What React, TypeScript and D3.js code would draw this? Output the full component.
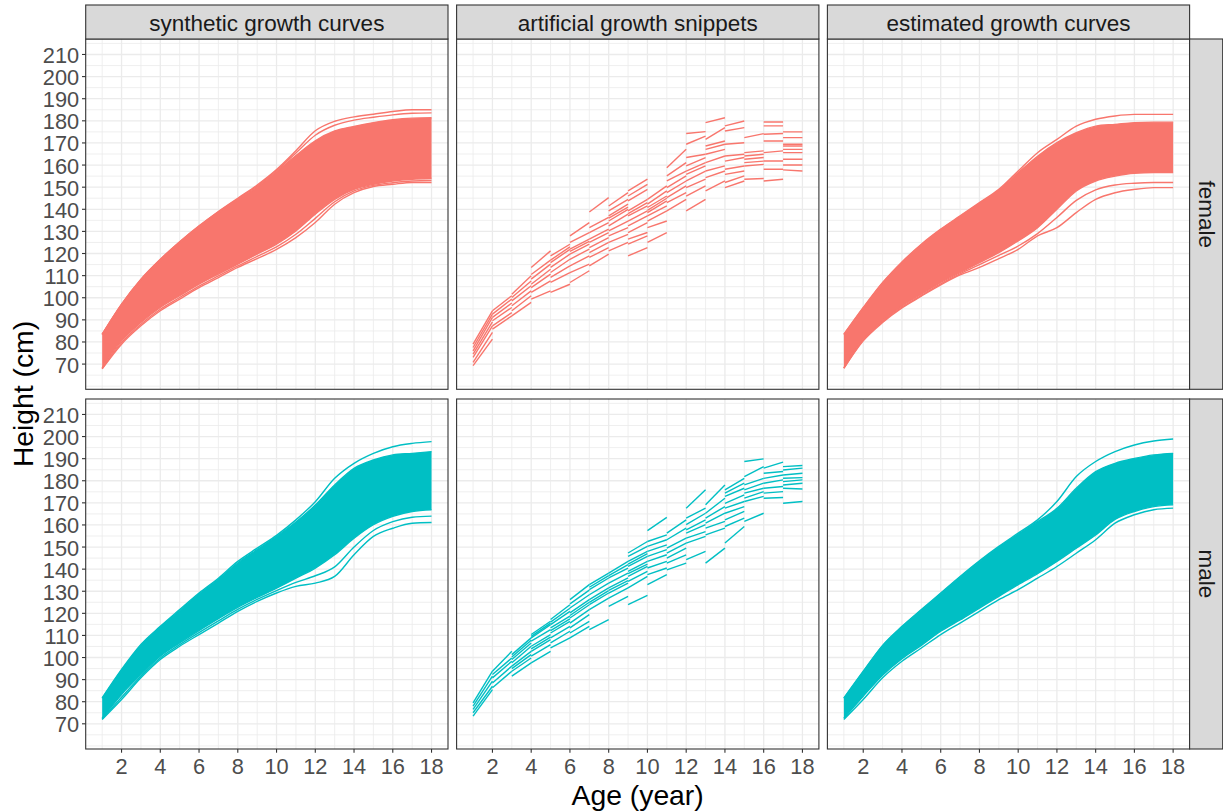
import React from "react";
import * as d3 from "d3";

// ---------- data ----------
const AGES = [1, 2, 3, 4, 5, 6, 7, 8, 9, 10, 11, 12, 13, 14, 15, 16, 17, 18];
const X_TICKS = [2, 4, 6, 8, 10, 12, 14, 16, 18];
const X_MINOR = [1, 3, 5, 7, 9, 11, 13, 15, 17];
const Y_TICKS = [70, 80, 90, 100, 110, 120, 130, 140, 150, 160, 170, 180, 190, 200, 210];
const Y_MINOR = [60, 65, 75, 85, 95, 105, 115, 125, 135, 145, 155, 165, 175, 185, 195, 205, 215];
const COLUMN_TITLES = ["synthetic growth curves", "artificial growth snippets", "estimated growth curves"];
const ROW_TITLES = ["female", "male"];
const SEX_COLORS = ["#F8766D", "#00BFC4"];

// synthetic growth curves (band edges & outlying curves), female
const sfUpperOut = [83.5, 97.1, 108.4, 117.4, 125.3, 132.5, 139.0, 145.0, 151.0, 158.0, 166.5, 175.5, 179.8, 181.8, 183.0, 184.2, 185.0, 185.0];
const sfUpperMid = [83.4, 97.0, 108.2, 117.2, 125.2, 132.3, 138.8, 144.7, 150.5, 157.5, 165.5, 173.5, 178.0, 180.3, 181.6, 182.7, 183.4, 183.6];
const sfUpper = [83.3, 96.8, 108.0, 117.0, 125.0, 132.0, 138.5, 144.3, 150.0, 157.0, 164.3, 171.0, 175.4, 177.5, 179.2, 180.5, 181.2, 181.4];
const sfLower = [68.3, 80.5, 88.8, 95.6, 100.9, 106.1, 110.7, 115.2, 119.7, 124.2, 130.2, 137.8, 144.5, 149.0, 151.3, 152.8, 153.6, 153.9];
const sfLowerMid = [68.0, 79.7, 88.0, 94.8, 100.1, 105.3, 109.9, 114.4, 118.7, 123.0, 128.7, 135.9, 143.4, 148.3, 150.8, 152.0, 152.8, 153.0];
const sfLowerOut = [67.8, 79.0, 87.3, 94.1, 99.4, 104.6, 109.1, 113.7, 117.7, 121.9, 127.2, 134.0, 142.3, 147.5, 150.3, 151.3, 152.1, 152.1];

// synthetic growth curves, male
const smUpperOut = [81.7, 94.6, 105.9, 114.1, 121.7, 129.2, 135.9, 143.5, 149.5, 155.3, 162.3, 170.5, 181.1, 187.9, 192.4, 195.4, 196.9, 197.7];
const smUpper = [81.5, 94.2, 105.5, 113.7, 121.2, 128.7, 135.4, 142.8, 148.8, 154.7, 161.3, 169.0, 178.1, 185.6, 189.4, 191.7, 192.4, 193.2];
const smLower = [72.5, 83.3, 92.3, 100.6, 106.6, 112.2, 117.6, 122.7, 127.2, 131.4, 135.9, 140.5, 146.5, 154.0, 160.1, 163.9, 166.1, 166.9];
const smLowerMid = [72.2, 82.0, 91.5, 99.8, 105.8, 111.3, 116.6, 121.8, 126.3, 130.3, 134.0, 137.0, 141.0, 150.0, 157.5, 161.5, 163.5, 164.0];
const smLowerOut = [72.0, 81.0, 90.8, 99.1, 105.1, 110.4, 115.6, 120.9, 125.4, 129.2, 132.2, 133.7, 136.7, 146.5, 154.8, 158.5, 160.8, 161.1];

// estimated growth curves, female
const efUpperOut = [83.5, 95.6, 106.9, 116.2, 124.2, 131.0, 137.0, 143.0, 149.0, 157.3, 165.6, 171.6, 177.6, 180.7, 182.2, 182.9, 182.9, 182.9];
const efUpper = [83.3, 95.3, 106.6, 115.9, 123.9, 130.7, 136.7, 142.7, 148.6, 156.5, 164.0, 170.1, 174.6, 177.6, 178.4, 179.2, 179.4, 179.4];
const efLower = [68.3, 81.3, 89.6, 96.3, 101.6, 106.9, 111.4, 115.9, 120.4, 125.7, 131.7, 140.0, 148.3, 152.8, 155.0, 156.3, 156.6, 156.6];
const efLowerMid = [68.2, 80.9, 89.2, 95.8, 101.1, 106.3, 110.8, 115.0, 119.2, 123.4, 129.0, 136.3, 144.0, 148.8, 151.0, 151.8, 152.1, 152.1];
const efLowerOut = [68.1, 80.5, 88.8, 95.4, 100.7, 105.8, 110.3, 113.7, 117.7, 121.9, 128.0, 131.7, 138.5, 144.5, 147.5, 149.0, 149.8, 149.8];

// estimated growth curves, male
const emUpperOut = [81.7, 93.8, 105.5, 114.1, 121.7, 129.2, 136.7, 143.8, 150.3, 156.3, 162.3, 170.6, 181.9, 188.7, 193.2, 196.2, 198.0, 198.9];
const emUpper = [81.5, 93.5, 105.2, 113.8, 121.4, 128.9, 136.3, 143.4, 149.9, 155.8, 161.5, 167.5, 176.6, 184.1, 187.9, 190.1, 191.7, 192.4];
const emLower = [72.5, 82.5, 92.0, 99.5, 105.5, 111.9, 117.0, 122.4, 127.7, 133.0, 138.0, 143.5, 149.5, 155.5, 162.5, 166.1, 168.3, 169.1];
const emLowerOut = [72.0, 81.0, 90.8, 98.3, 104.3, 110.4, 115.6, 120.9, 126.2, 130.7, 135.9, 141.2, 147.2, 153.3, 160.8, 164.6, 166.9, 167.6];

// artificial growth snippets: [start age, height at start, height one year later]
const femaleSnippets: [number, number, number][] = [
  [1, 79.0, 94.1], [1, 77.5, 92.6], [1, 76.0, 91.1], [1, 74.5, 89.1], [1, 73.0, 87.3], [1, 70.8, 84.3], [1, 69.3, 81.3],
  [2, 94.1, 100.9], [2, 92.6, 99.4], [2, 91.1, 97.6], [2, 89.6, 95.6], [2, 87.3, 93.3], [2, 85.8, 91.8],
  [3, 101.6, 109.9], [3, 100.1, 107.6], [3, 98.6, 105.4], [3, 96.4, 103.1], [3, 94.1, 100.9], [3, 91.8, 97.9],
  [4, 113.7, 121.2], [4, 110.5, 117.0], [4, 108.4, 115.2], [4, 106.1, 112.9], [4, 104.6, 110.7], [4, 102.4, 107.6], [4, 99.4, 103.1],
  [5, 118.9, 124.2], [5, 117.0, 123.0], [5, 115.9, 121.9], [5, 113.7, 119.7], [5, 111.4, 117.4], [5, 109.2, 114.4], [5, 106.9, 111.4], [5, 102.4, 106.1],
  [6, 128.0, 134.0], [6, 125.0, 129.5], [6, 122.0, 126.5], [6, 121.0, 125.5], [6, 119.7, 124.2], [6, 117.4, 122.0], [6, 114.4, 118.9], [6, 111.4, 115.2], [6, 106.9, 112.2],
  [7, 138.8, 145.3], [7, 131.7, 136.3], [7, 129.5, 134.0], [7, 126.5, 131.0], [7, 125.0, 129.5], [7, 122.7, 127.2], [7, 120.4, 125.0], [7, 118.2, 122.7], [7, 114.4, 119.7],
  [8, 141.5, 147.5], [8, 139.3, 144.5], [8, 137.0, 142.3], [8, 136.0, 141.0], [8, 134.7, 140.0], [8, 132.5, 137.8], [8, 130.2, 134.7], [8, 128.0, 131.7], [8, 125.0, 128.7], [8, 121.2, 125.0],
  [9, 148.3, 153.6], [9, 146.0, 151.3], [9, 143.8, 149.0], [9, 139.3, 144.5], [9, 138.0, 143.0], [9, 137.0, 141.5], [9, 134.7, 139.3], [9, 132.5, 137.0], [9, 129.5, 134.0], [9, 126.5, 129.5], [9, 124.2, 128.0], [9, 118.9, 122.7],
  [10, 144.5, 150.6], [10, 142.3, 148.3], [10, 140.8, 146.0], [10, 139.5, 145.0], [10, 138.5, 143.8], [10, 137.0, 141.5], [10, 134.7, 139.3], [10, 131.7, 134.7], [10, 125.0, 129.5],
  [11, 158.8, 167.1], [11, 155.1, 161.1], [11, 152.8, 157.3], [11, 149.8, 155.1], [11, 147.5, 152.8], [11, 145.3, 150.6], [11, 143.0, 147.5], [11, 139.3, 144.5],
  [12, 174.3, 175.1], [12, 169.4, 173.1], [12, 163.4, 164.9], [12, 159.6, 163.4], [12, 157.3, 161.1], [12, 155.8, 159.6], [12, 152.8, 157.3], [12, 149.8, 153.6], [12, 146.0, 150.6], [12, 139.3, 144.5],
  [13, 179.2, 181.4], [13, 171.6, 176.9], [13, 168.6, 170.9], [13, 167.1, 169.4], [13, 164.9, 167.1], [13, 161.1, 164.1], [13, 157.3, 159.6], [13, 154.3, 157.3], [13, 148.3, 152.8],
  [14, 177.7, 179.9], [14, 175.4, 176.9], [14, 169.4, 170.1], [14, 164.1, 164.9], [14, 161.8, 163.4], [14, 158.1, 159.6], [14, 155.8, 157.3], [14, 152.1, 155.1], [14, 149.8, 152.8],
  [15, 172.4, 174.2], [15, 165.6, 166.4], [15, 164.1, 164.9], [15, 162.6, 163.4], [15, 161.1, 161.8], [15, 159.6, 160.3], [15, 153.6, 153.9],
  [16, 179.5, 179.5], [16, 177.7, 177.7], [16, 173.9, 174.3], [16, 170.9, 170.9], [16, 165.6, 166.4], [16, 161.8, 161.8], [16, 158.1, 158.1], [16, 152.8, 153.6],
  [17, 175.0, 175.0], [17, 172.4, 172.4], [17, 169.4, 169.4], [17, 168.6, 168.6], [17, 167.1, 167.1], [17, 165.6, 165.6], [17, 162.6, 162.6], [17, 160.0, 160.0], [17, 157.8, 157.3],
];

const maleSnippets: [number, number, number][] = [
  [1, 79.5, 93.8], [1, 78.0, 91.6], [1, 76.5, 89.3], [1, 75.0, 87.0], [1, 73.5, 85.5],
  [2, 93.8, 102.8], [2, 92.3, 99.8], [2, 90.8, 98.3], [2, 88.5, 96.1], [2, 86.3, 93.8],
  [3, 101.3, 108.9], [3, 100.2, 107.8], [3, 99.1, 106.6], [3, 97.6, 105.1], [3, 96.1, 102.8], [3, 95.0, 101.3], [3, 93.8, 99.8], [3, 91.6, 97.6],
  [4, 110.4, 116.4], [4, 109.6, 115.6], [4, 108.9, 114.9], [4, 107.4, 112.6], [4, 105.1, 110.4], [4, 103.9, 109.2], [4, 102.8, 108.1], [4, 100.6, 105.8], [4, 97.6, 102.8],
  [5, 117.2, 123.9], [5, 116.0, 122.3], [5, 114.9, 120.9], [5, 113.4, 118.7], [5, 112.2, 117.5], [5, 111.1, 116.4], [5, 108.9, 114.1], [5, 106.6, 111.9], [5, 104.4, 108.9],
  [6, 126.2, 133.0], [6, 124.3, 130.5], [6, 122.4, 128.4], [6, 120.2, 126.2], [6, 119.0, 125.0], [6, 117.9, 123.9], [6, 115.6, 121.7], [6, 113.4, 119.4], [6, 111.1, 116.4], [6, 108.9, 114.1],
  [7, 133.0, 138.2], [7, 131.8, 137.1], [7, 130.7, 136.0], [7, 128.4, 133.7], [7, 126.2, 131.5], [7, 125.0, 130.3], [7, 123.9, 129.2], [7, 121.7, 126.9], [7, 112.6, 117.2],
  [8, 138.2, 143.5], [8, 137.1, 142.0], [8, 136.0, 140.5], [8, 133.7, 138.2], [8, 131.5, 136.0], [8, 130.4, 134.8], [8, 129.2, 133.7], [8, 126.9, 131.5], [8, 123.2, 127.7],
  [9, 147.3, 152.5], [9, 145.8, 150.3], [9, 143.5, 148.0], [9, 142.3, 147.0], [9, 141.2, 145.8], [9, 139.0, 143.5], [9, 138.0, 142.3], [9, 136.7, 141.2], [9, 134.5, 139.0], [9, 131.5, 136.7], [9, 123.9, 128.1],
  [10, 157.4, 163.4], [10, 152.5, 155.5], [10, 150.3, 153.3], [10, 148.0, 151.0], [10, 145.8, 148.8], [10, 143.5, 146.5], [10, 140.5, 143.5], [10, 137.5, 140.5], [10, 133.0, 137.5],
  [11, 156.3, 162.3], [11, 153.3, 158.6], [11, 149.5, 154.0], [11, 147.3, 151.8], [11, 145.0, 149.5], [11, 142.7, 146.5], [11, 139.7, 142.7],
  [12, 167.6, 175.9], [12, 163.1, 167.6], [12, 160.1, 165.3], [12, 157.8, 162.3], [12, 156.3, 160.1], [12, 154.0, 157.0], [12, 151.8, 154.8], [12, 144.3, 148.0],
  [13, 169.1, 178.1], [13, 165.3, 172.1], [13, 163.1, 168.3], [13, 160.8, 165.3], [13, 158.6, 161.6], [13, 155.5, 158.6], [13, 142.7, 149.5],
  [14, 175.9, 181.1], [14, 174.4, 178.9], [14, 172.9, 176.6], [14, 169.8, 173.6], [14, 167.6, 170.6], [14, 165.3, 168.3], [14, 162.3, 166.1], [14, 159.3, 163.1], [14, 151.8, 159.3],
  [15, 188.7, 189.9], [15, 181.9, 186.4], [15, 178.1, 181.1], [15, 175.9, 178.9], [15, 174.4, 176.6], [15, 172.1, 175.1], [15, 170.6, 172.9], [15, 161.6, 165.3],
  [16, 185.7, 188.4], [16, 183.4, 184.2], [16, 181.1, 182.6], [16, 178.9, 180.4], [16, 176.6, 177.4], [16, 174.4, 175.1], [16, 172.1, 172.4],
  [17, 186.4, 186.9], [17, 184.9, 185.7], [17, 182.6, 183.4], [17, 181.1, 181.4], [17, 179.6, 180.4], [17, 178.1, 178.9], [17, 176.6, 176.3], [17, 169.8, 170.6],
];

type Band = { upper: number[]; lower: number[]; lines: number[][] };
const BANDS: Record<string, Band> = {
  "0-0": { upper: sfUpper, lower: sfLower, lines: [sfUpperOut, sfUpperMid, sfUpper, sfLower, sfLowerMid, sfLowerOut] },
  "1-0": { upper: smUpper, lower: smLower, lines: [smUpperOut, smUpper, smLower, smLowerMid, smLowerOut] },
  "0-2": { upper: efUpper, lower: efLower, lines: [efUpperOut, efUpper, efLower, efLowerMid, efLowerOut] },
  "1-2": { upper: emUpper, lower: emLower, lines: [emUpperOut, emUpper, emLower, emLowerOut] },
};
const SNIPPETS = [femaleSnippets, maleSnippets];

// ---------- layout ----------
const W = 1223;
const H = 812;
const COLS: [number, number][] = [[85.7, 448], [456.6, 818.9], [827.4, 1189.6]];
const ROWS: [number, number][] = [[39, 389.3], [399, 749]];
const STRIP_TOP = 5;
const STRIP_RIGHT = 1222.7;
const X_DOMAIN: [number, number] = [0.15, 18.85];
const Y_DOMAIN: [number, number] = [58.6, 217.0];
const FONT = "'Liberation Sans', Arial, Helvetica, sans-serif";
const TICK_FS = 21.8;
const STRIP_FS = 22.5;
const TITLE_FS = 28.3;
const LW = 1.4;

function Panel({ r, c }: { r: number; c: number }) {
  const [x0, x1] = COLS[c];
  const [y0, y1] = ROWS[r];
  const x = d3.scaleLinear().domain(X_DOMAIN).range([x0, x1]);
  const y = d3.scaleLinear().domain(Y_DOMAIN).range([y1, y0]);
  const color = SEX_COLORS[r];
  const band = BANDS[`${r}-${c}`];
  const line = d3
    .line<number>()
    .x((_, i) => x(AGES[i]))
    .y((d) => y(d))
    .curve(d3.curveMonotoneX);
  const area = band
    ? d3
        .area<number>()
        .x((_, i) => x(AGES[i]))
        .y0((_, i) => y(band.lower[i]))
        .y1((_, i) => y(band.upper[i]))
        .curve(d3.curveMonotoneX)
    : null;
  const clipId = `clip-${r}-${c}`;
  return (
    <g>
      <defs>
        <clipPath id={clipId}>
          <rect x={x0} y={y0} width={x1 - x0} height={y1 - y0} />
        </clipPath>
      </defs>
      <rect x={x0} y={y0} width={x1 - x0} height={y1 - y0} fill="#FFFFFF" />
      {X_MINOR.map((v) => (
        <line key={`xm${v}`} x1={x(v)} x2={x(v)} y1={y0} y2={y1} stroke="#EBEBEB" strokeWidth={0.8} />
      ))}
      {Y_MINOR.filter((v) => v >= Y_DOMAIN[0] && v <= Y_DOMAIN[1]).map((v) => (
        <line key={`ym${v}`} x1={x0} x2={x1} y1={y(v)} y2={y(v)} stroke="#EBEBEB" strokeWidth={0.8} />
      ))}
      {X_TICKS.map((v) => (
        <line key={`xM${v}`} x1={x(v)} x2={x(v)} y1={y0} y2={y1} stroke="#EBEBEB" strokeWidth={1.3} />
      ))}
      {Y_TICKS.map((v) => (
        <line key={`yM${v}`} x1={x0} x2={x1} y1={y(v)} y2={y(v)} stroke="#EBEBEB" strokeWidth={1.3} />
      ))}
      <g clipPath={`url(#${clipId})`}>
        {band && area && (
          <>
            <path d={area(band.upper) || ""} fill={color} stroke="none" />
            {band.lines.map((ln, i) => (
              <path key={i} d={line(ln) || ""} fill="none" stroke={color} strokeWidth={LW} />
            ))}
          </>
        )}
        {c === 1 &&
          SNIPPETS[r].map((s, i) => (
            <line
              key={i}
              x1={x(s[0])}
              y1={y(s[1])}
              x2={x(s[0] + 1)}
              y2={y(s[2])}
              stroke={color}
              strokeWidth={LW}
            />
          ))}
      </g>
      <rect x={x0} y={y0} width={x1 - x0} height={y1 - y0} fill="none" stroke="#333333" strokeWidth={1.1} />
    </g>
  );
}

export default function App() {
  const yAxis = d3.scaleLinear().domain(Y_DOMAIN);
  const xAxis = d3.scaleLinear().domain(X_DOMAIN);
  const midY = (ROWS[0][0] + ROWS[1][1]) / 2;
  return (
    <svg
      width={W}
      height={H}
      viewBox={`0 0 ${W} ${H}`}
      style={{ position: "absolute", left: 0, top: 0, background: "#FFFFFF", fontFamily: FONT }}
    >
      <rect x={0} y={0} width={W} height={H} fill="#FFFFFF" />
      {ROWS.map((_, r) => COLS.map((__, c) => <Panel key={`${r}-${c}`} r={r} c={c} />))}

      {/* top strips */}
      {COLS.map(([a, b], c) => (
        <g key={`st${c}`}>
          <rect x={a} y={STRIP_TOP} width={b - a} height={ROWS[0][0] - STRIP_TOP} fill="#D9D9D9" stroke="#333333" strokeWidth={1.1} />
          <text x={(a + b) / 2} y={(STRIP_TOP + ROWS[0][0]) / 2 + 1} textAnchor="middle" dominantBaseline="central" fontSize={STRIP_FS} fill="#1A1A1A">
            {COLUMN_TITLES[c]}
          </text>
        </g>
      ))}
      {/* right strips */}
      {ROWS.map(([a, b], r) => {
        const sx = COLS[2][1];
        const cx = (sx + STRIP_RIGHT) / 2;
        const cy = (a + b) / 2;
        return (
          <g key={`sr${r}`}>
            <rect x={sx} y={a} width={STRIP_RIGHT - sx} height={b - a} fill="#D9D9D9" stroke="#333333" strokeWidth={1.1} />
            <text
              x={cx}
              y={cy}
              transform={`rotate(90 ${cx} ${cy})`}
              textAnchor="middle"
              dominantBaseline="central"
              fontSize={STRIP_FS}
              fill="#1A1A1A"
            >
              {ROW_TITLES[r]}
            </text>
          </g>
        );
      })}

      {/* y axes */}
      {ROWS.map(([a, b], r) => {
        const y = yAxis.copy().range([b, a]);
        const ax = COLS[0][0];
        return (
          <g key={`ya${r}`}>
            {Y_TICKS.map((v) => (
              <g key={v}>
                <line x1={ax - 3.7} x2={ax} y1={y(v)} y2={y(v)} stroke="#333333" strokeWidth={1.1} />
                <text x={ax - 6.5} y={y(v) + 1} textAnchor="end" dominantBaseline="central" fontSize={TICK_FS} fill="#4D4D4D">
                  {v}
                </text>
              </g>
            ))}
          </g>
        );
      })}

      {/* x axes */}
      {COLS.map(([a, b], c) => {
        const x = xAxis.copy().range([a, b]);
        const ay = ROWS[1][1];
        return (
          <g key={`xa${c}`}>
            {X_TICKS.map((v) => (
              <g key={v}>
                <line x1={x(v)} x2={x(v)} y1={ay} y2={ay + 3.7} stroke="#333333" strokeWidth={1.1} />
                <text x={x(v)} y={ay + 17} textAnchor="middle" dominantBaseline="central" fontSize={TICK_FS} fill="#4D4D4D">
                  {v}
                </text>
              </g>
            ))}
          </g>
        );
      })}

      {/* axis titles */}
      <text
        x={(COLS[0][0] + COLS[2][1]) / 2}
        y={795}
        textAnchor="middle"
        dominantBaseline="central"
        fontSize={TITLE_FS}
        fill="#000000"
      >
        Age (year)
      </text>
      <text
        x={23}
        y={midY}
        transform={`rotate(-90 23 ${midY})`}
        textAnchor="middle"
        dominantBaseline="central"
        fontSize={TITLE_FS}
        fill="#000000"
      >
        Height (cm)
      </text>
    </svg>
  );
}
